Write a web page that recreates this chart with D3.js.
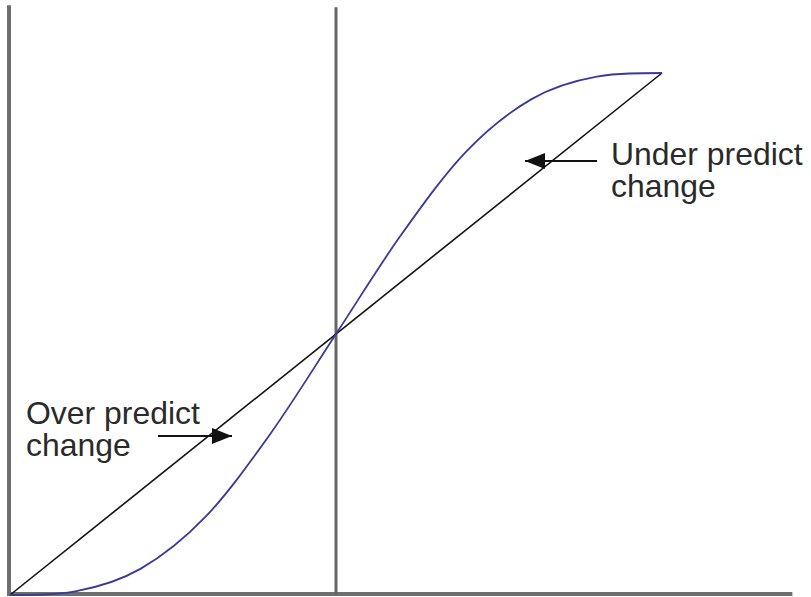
<!DOCTYPE html>
<html>
  <head>
    <meta charset="utf-8">
    <title>over / under predict</title>
    <style>
      body { margin: 0; background: #fff; }
      svg { display: block; }
      .lbl { font: 31px "Liberation Sans", Arial, sans-serif; fill: #2a2a2a; }
      .axis { stroke: #6e6e6e; stroke-width: 4; fill: none; }
      .mid { stroke: #666; stroke-width: 3; fill: none; }
      .diag { stroke: #111; stroke-width: 1.6; fill: none; }
      .curve { stroke: #3a3a96; stroke-width: 1.8; fill: none; }
      .arrow { stroke: #111; stroke-width: 2; fill: none; }
    </style>
  </head>
  <body>
    <script src="https://cdn.jsdelivr.net/npm/d3@7"></script>
    <script>
      // data (unit square, actual vs predicted)
      var curveX = [0, 0.05, 0.1, 0.2, 0.3, 0.4, 0.5, 0.6, 0.7, 0.8, 0.9, 0.95, 1];
      var curveY = [0, 0.001, 0.007, 0.05, 0.15, 0.31, 0.5, 0.69, 0.85, 0.95, 0.993, 0.999, 1];
      var diagX = [0, 1];
      var diagY = [0, 1];
      var midX = 0.5;
      var axisMaxX = 1.2, axisMaxY = 1.13;
      var labelUnder = ["Under predict", "change"];
      var labelOver = ["Over predict", "change"];

      var width = 811, height = 597;

      var x = d3.scaleLinear().domain([0, 1]).range([10, 662]);
      var y = d3.scaleLinear().domain([0, 1]).range([595, 73]);

      var svg = d3.select("body").append("svg")
          .attr("width", width)
          .attr("height", height);

      svg.append("defs").append("marker")
          .attr("id", "head")
          .attr("markerUnits", "userSpaceOnUse")
          .attr("viewBox", "0 0 20 16")
          .attr("refX", 20).attr("refY", 8)
          .attr("markerWidth", 20).attr("markerHeight", 16)
          .attr("orient", "auto")
        .append("path")
          .attr("d", "M0,0 L20,8 L0,16 Z")
          .attr("fill", "#111");

      // axes
      svg.append("line").attr("class", "axis")
          .attr("x1", x(0) - 1).attr("x2", x(0) - 1)
          .attr("y1", y(0)).attr("y2", y(axisMaxY));
      svg.append("line").attr("class", "axis")
          .attr("x1", x(0) - 3).attr("x2", x(axisMaxX))
          .attr("y1", y(0) - 1).attr("y2", y(0) - 1);
      svg.append("line").attr("class", "mid")
          .attr("x1", x(midX)).attr("x2", x(midX))
          .attr("y1", y(0)).attr("y2", y(axisMaxY) + 2);

      // lines
      var line = d3.line().x(function(d) { return x(d[0]); }).y(function(d) { return y(d[1]); });
      svg.append("path").attr("class", "diag")
          .datum(d3.zip(diagX, diagY)).attr("d", line);
      svg.append("path").attr("class", "curve")
          .datum(d3.zip(curveX, curveY))
          .attr("d", line.curve(d3.curveMonotoneX));

      // annotations
      svg.append("line").attr("class", "arrow")
          .attr("x1", 597).attr("y1", 161).attr("x2", 525).attr("y2", 161)
          .attr("marker-end", "url(#head)");
      svg.append("line").attr("class", "arrow")
          .attr("x1", 158).attr("y1", 436).attr("x2", 232).attr("y2", 436)
          .attr("marker-end", "url(#head)");

      // labels (slightly stretched to match the original's wide face)
      labelUnder.forEach(function(t, i) {
        svg.append("text").attr("class", "lbl")
            .attr("transform", "translate(611," + (165 + i * 32) + ") scale(1.03,1)")
            .text(t);
      });
      labelOver.forEach(function(t, i) {
        svg.append("text").attr("class", "lbl")
            .attr("transform", "translate(26," + (424 + i * 32) + ") scale(1.03,1)")
            .text(t);
      });
    </script>
  </body>
</html>
